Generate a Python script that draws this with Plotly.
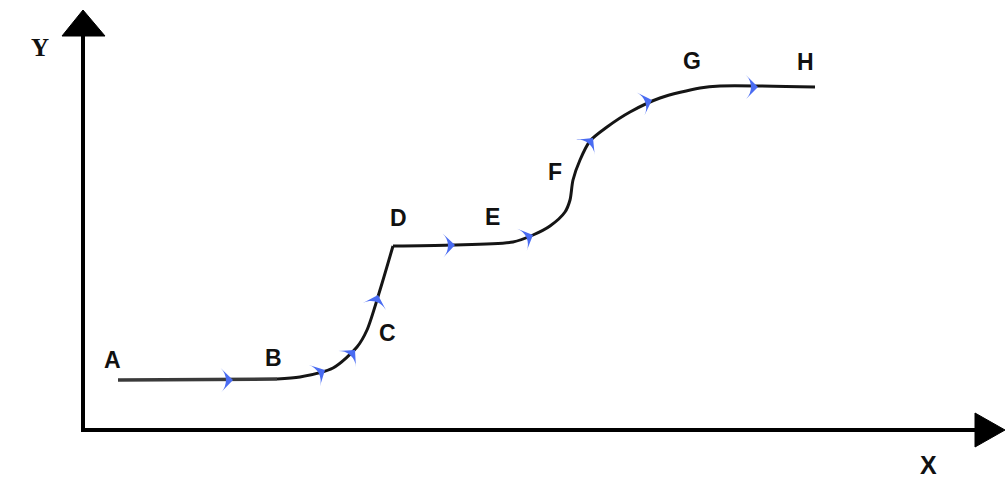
import numpy as np
import plotly.graph_objects as go

# Curve points (x, y in picture units; y grows downward)
seg1_x = [118, 277]
seg1_y = [380, 379]
seg2_x = [277, 300, 333, 357, 367, 380, 393]
seg2_y = [379, 377, 368, 347, 330, 290, 246]
seg3_x = [393, 450, 513, 533, 550, 565, 570, 573, 580, 590, 607, 630, 660, 700, 720, 815]
seg3_y = [246, 245, 242, 235, 226, 212, 200, 180, 160, 141, 127, 112, 98, 88, 86, 87]

# Blue direction arrows along the curve
arrow_x = [233, 325, 355, 378, 455, 533, 593, 652, 758]
arrow_y = [380, 370, 350, 295, 245, 235, 138, 100, 87]

# Point labels
labels = ["A", "B", "C", "D", "E", "F", "G", "H"]
label_x = [112, 273, 387, 398, 492, 555, 692, 805]
label_y = [360, 358, 333, 218, 217, 172, 61, 62]

# Axes geometry
origin = (83, 430)
y_axis_top = 36
x_axis_end = 975

fig = go.Figure()

line_style = dict(color="#151515", width=3)
fig.add_trace(go.Scatter(x=seg1_x, y=seg1_y, mode="lines", line=dict(color="#3a3a3a", width=3.5), hoverinfo="skip"))
fig.add_trace(go.Scatter(x=seg2_x, y=seg2_y, mode="lines", line=dict(shape="spline", smoothing=0.8, **line_style), hoverinfo="skip"))
fig.add_trace(go.Scatter(x=seg3_x, y=seg3_y, mode="lines", line=dict(shape="spline", smoothing=0.8, **line_style), hoverinfo="skip"))

# compute arrow angles from the curve direction
all_x = np.array(seg1_x + seg2_x[1:] + seg3_x[1:], dtype=float)
all_y = np.array(seg1_y + seg2_y[1:] + seg3_y[1:], dtype=float)
angles = []
for ax_, ay_ in zip(arrow_x, arrow_y):
    d = np.hypot(all_x - ax_, all_y - ay_)
    i = int(np.argmin(d))
    i0 = max(i - 1, 0)
    i1 = min(i + 1, len(all_x) - 1)
    dx = all_x[i1] - all_x[i0]
    dy = all_y[i1] - all_y[i0]
    angles.append(float(np.degrees(np.arctan2(dx, -dy))))

fig.add_trace(go.Scatter(
    x=arrow_x, y=arrow_y, mode="markers",
    marker=dict(symbol="arrow-wide", size=17, angle=angles, color="#4a6cf2",
                line=dict(width=0)),
    hoverinfo="skip"))

# axes lines
ox, oy = origin
fig.add_trace(go.Scatter(x=[ox, ox], y=[oy, y_axis_top], mode="lines",
                         line=dict(color="black", width=4), hoverinfo="skip"))
fig.add_trace(go.Scatter(x=[ox - 2, x_axis_end], y=[oy, oy], mode="lines",
                         line=dict(color="black", width=4), hoverinfo="skip"))
# arrowheads
fig.add_trace(go.Scatter(x=[ox - 21, ox, ox + 22, ox - 21], y=[y_axis_top, 10, y_axis_top, y_axis_top],
                         mode="lines", fill="toself", fillcolor="black", line=dict(color="black", width=1),
                         hoverinfo="skip"))
fig.add_trace(go.Scatter(x=[x_axis_end, 1005, x_axis_end, x_axis_end], y=[oy - 17, oy, oy + 17, oy - 17],
                         mode="lines", fill="toself", fillcolor="black", line=dict(color="black", width=1),
                         hoverinfo="skip"))

for t, lx, ly in zip(labels, label_x, label_y):
    fig.add_annotation(x=lx, y=ly, text=f"<b>{t}</b>", showarrow=False,
                       font=dict(family="Liberation Sans Narrow, Arial Narrow, Liberation Sans", size=23, color="#111"))

fig.add_annotation(x=40, y=47, text="<b>Y</b>", showarrow=False,
                   font=dict(family="Liberation Serif", size=25, color="#111"))
fig.add_annotation(x=928, y=465, text="<b>X</b>", showarrow=False,
                   font=dict(family="Liberation Sans", size=25, color="#111"))

fig.update_layout(
    width=1006, height=479, margin=dict(l=0, r=0, t=0, b=0),
    paper_bgcolor="white", plot_bgcolor="white", showlegend=False,
    xaxis=dict(range=[0, 1006], visible=False, fixedrange=True),
    yaxis=dict(range=[479, 0], visible=False, fixedrange=True),
)

fig.write_html("out.html", config={"displayModeBar": False},
               post_script="document.body.style.margin='0';document.body.style.overflow='hidden';")
